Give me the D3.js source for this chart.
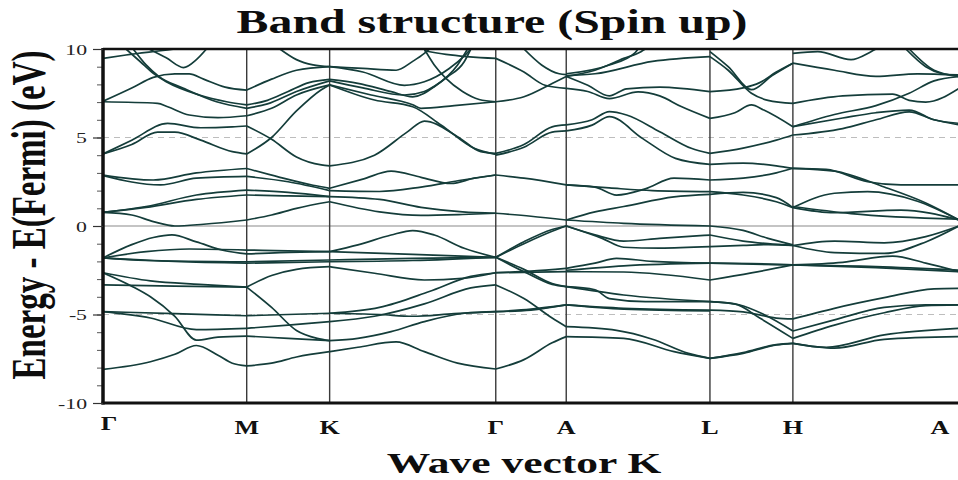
<!DOCTYPE html>
<html>
<head>
<meta charset="utf-8">
<script src="https://cdn.jsdelivr.net/npm/d3@7"></script>
<style>
  html, body { margin: 0; padding: 0; background: #fff; }
  svg { display: block; }
  text { font-family: "Liberation Serif", "Times New Roman", serif; }
</style>
</head>
<body>
<svg id="chart" width="958" height="480"></svg>
<script>
// High-symmetry path of the hexagonal Brillouin zone
const kLabels = ["Γ", "M", "K", "Γ", "A", "L", "H", "A"];
// Segment lengths in units of 2π/a
const segLengths = [0.577, 0.333, 0.667, 0.283, 0.577, 0.333, 0.667];
const energyMajor = [-10, -5, 0, 5, 10];
const energyMinor = d3.range(-10, 11, 1);

// Bands per path segment: each curve is a list of [t, E] with t in [0,1] along the segment, E in eV
const bandsGM = [
  [[0,-8.1],[0.33,-7.67],[0.5,-7.25],[0.65,-6.75],[0.8,-7.3],[0.9,-7.75],[1,-7.9]],
  [[0,-2.64],[0.2,-3.4],[0.33,-4.0],[0.5,-5.1],[0.65,-6.45],[0.8,-6.28],[1,-6.22]],
  [[0,-4.84],[0.33,-5.2],[0.65,-5.85],[1,-5.78]],
  [[0,-4.84],[0.5,-4.95],[1,-5.07]],
  [[0,-3.33],[0.5,-3.4],[1,-3.45]],
  [[0,-2.64],[0.33,-3.1],[0.67,-3.3],[1,-3.45]],
  [[0,-1.8],[0.5,-2.0],[1,-2.1]],
  [[0,-1.8],[0.3,-1.95],[1,-2.02]],
  [[0,-1.8],[0.3,-1.45],[0.6,-1.3],[1,-1.36]],
  [[0,-1.8],[0.2,-1.05],[0.35,-0.65],[0.48,-0.5],[0.65,-0.9],[0.85,-1.4],[1,-1.58]],
  [[0,0.77],[0.2,0.62],[0.35,0.25],[0.5,0.0],[0.7,0.1],[1,0.34]],
  [[0,0.77],[0.3,1.1],[0.65,1.75],[1,2.03]],
  [[0,0.77],[0.3,1.05],[0.65,1.5],[1,1.75]],
  [[0,2.85],[0.4,2.32],[0.65,2.7],[1,2.8]],
  [[0,2.88],[0.35,2.6],[0.65,3.0],[1,3.25]],
  [[0,4.07],[0.2,4.6],[0.38,5.3],[0.5,5.3],[0.68,4.85],[0.9,4.2],[1,4.07]],
  [[0,4.07],[0.2,4.85],[0.45,5.8],[0.68,5.55],[0.9,5.6],[1,5.65]],
  [[0,7.02],[0.38,6.93],[0.45,6.74],[0.6,6.27],[0.8,6.12],[1,6.23]],
  [[0,7.05],[0.2,7.8],[0.35,8.4],[0.5,8.6],[0.6,8.6],[0.7,8.3],[0.85,7.85],[1,7.68]],
  [[0.16,10],[0.26,9.28],[0.35,8.62],[0.44,8.15],[0.67,7.4],[0.86,7.02],[1,6.84]],
  [[0.21,10],[0.3,9.1],[0.39,8.44],[0.56,7.78],[0.79,7.02],[1,6.65]],
  [[0.32,10],[0.44,9.5],[0.56,8.95],[0.65,9.4],[0.72,10]],
  [[0,9.47],[0.16,9.66],[0.4,9.9],[0.5,10]]
];

const bandsMK = [
  [[0,7.68],[0.3,8.3],[0.6,8.8],[1,9.0]],
  [[0.4,10],[0.6,9.4],[0.8,9.1],[1,9.0]],
  [[0,6.84],[0.25,7.1],[0.5,7.6],[0.75,8.1],[1,8.28]],
  [[0,6.65],[0.25,6.9],[0.6,7.6],[1,8.2]],
  [[0,6.23],[0.3,6.65],[0.6,7.4],[1,7.97]],
  [[0,4.07],[0.3,5.0],[0.6,6.5],[0.9,7.7],[1,7.97]],
  [[0,5.65],[0.3,4.9],[0.6,3.9],[0.9,3.45],[1,3.4]],
  [[0,3.25],[0.4,2.75],[0.8,2.3],[1,2.13]],
  [[0,2.8],[0.5,2.5],[1,2.0]],
  [[0,2.03],[0.5,1.9],[1,1.66]],
  [[0,1.75],[0.5,1.7],[1,1.66]],
  [[0,0.34],[0.3,0.62],[0.6,1.0],[1,1.37]],
  [[0,-1.36],[0.5,-1.4],[1,-1.45]],
  [[0,-1.58],[0.4,-1.5],[1,-1.45]],
  [[0,-2.02],[1,-1.92]],
  [[0,-2.1],[1,-2.02]],
  [[0,-3.45],[0.3,-2.8],[0.6,-2.45],[1,-2.3]],
  [[0,-3.45],[0.3,-4.6],[0.6,-5.9],[0.85,-6.35],[1,-6.48]],
  [[0,-5.07],[1,-4.93]],
  [[0,-5.78],[0.5,-5.6],[1,-5.4]],
  [[0,-6.22],[0.5,-6.35],[1,-6.48]],
  [[0,-7.9],[0.3,-7.75],[0.6,-7.4],[1,-7.1]]
];

const bandsKG = [
  [[0,-1.45],[0.17,-1.07],[0.37,-0.51],[0.5,-0.26],[0.63,-0.51],[0.81,-1.26],[1,-1.77]],
  [[0,-1.45],[0.5,-1.6],[1,-1.77]],
  [[0,-1.92],[0.5,-1.83],[1,-1.77]],
  [[0,-2.02],[0.5,-1.95],[1,-1.77]],
  [[0,-2.3],[0.27,-2.67],[0.57,-3.05],[0.8,-2.96],[1,-2.64]],
  [[0,-4.93],[0.3,-4.6],[0.6,-3.7],[0.85,-2.85],[1,-2.64]],
  [[0,-5.4],[0.27,-5.1],[0.57,-4.4],[0.85,-3.5],[1,-3.33]],
  [[0,-4.93],[0.3,-5.0],[0.5,-5.1],[0.75,-4.95],[1,-4.84]],
  [[0,-6.48],[0.17,-6.35],[0.37,-5.97],[0.57,-5.4],[0.81,-4.93],[1,-4.84]],
  [[0,-7.1],[0.17,-6.85],[0.4,-6.55],[0.57,-7.1],[0.77,-7.75],[1,-8.08]],
  [[0,1.37],[0.3,0.8],[0.55,0.6],[0.8,0.65],[1,0.72]],
  [[0,1.66],[0.3,1.5],[0.55,1.05],[0.8,0.8],[1,0.72]],
  [[0,2.0],[0.3,1.95],[0.55,2.2],[0.8,2.6],[1,2.88]],
  [[0,2.13],[0.2,2.65],[0.37,3.1],[0.55,2.75],[0.73,2.4],[0.87,2.7],[1,2.88]],
  [[0,3.4],[0.27,4.0],[0.47,5.33],[0.57,5.93],[0.77,5.05],[0.91,4.2],[1,4.1]],
  [[0,7.97],[0.27,7.12],[0.5,6.74],[0.67,5.71],[0.87,4.39],[1,4.05]],
  [[0,7.97],[0.25,7.4],[0.5,6.85],[0.55,6.65],[0.75,6.8],[1,7.02]],
  [[0,8.28],[0.17,8.06],[0.37,7.59],[0.5,7.3],[0.63,7.87],[0.77,9.1],[0.83,10]],
  [[0,8.2],[0.2,7.8],[0.45,7.4],[0.57,7.6],[0.71,8.43],[0.81,9.28],[0.85,10]],
  [[0,9.0],[0.2,8.7],[0.45,7.95],[0.57,8.15],[0.72,8.9],[0.82,9.7],[0.85,10]],
  [[0,9.0],[0.2,8.9],[0.4,8.8],[0.5,9.3],[0.57,9.75],[0.6,10]],
  [[0.57,10],[0.63,9.1],[0.7,8.34],[0.8,7.6],[0.9,7.15],[1,7.02]],
  [[0.57,9.9],[0.7,9.7],[1,9.47]]
];

const bandsGA = [
  [[0,9.47],[0.4,8.7],[0.7,7.95],[1,7.78]],
  [[0,7.02],[0.4,7.3],[0.8,8.05],[1,8.45]],
  [[0.4,10],[0.65,9.1],[0.9,8.6],[1,8.55]],
  [[0,4.1],[0.4,4.6],[0.8,5.6],[1,5.71]],
  [[0,4.0],[0.4,4.45],[0.8,5.3],[1,5.37]],
  [[0,2.88],[0.4,2.7],[1,2.32]],
  [[0,0.72],[0.5,0.55],[1,0.34]],
  [[0,-1.77],[0.4,-0.89],[0.8,-0.2],[1,0.0]],
  [[0,-1.77],[0.4,-1.0],[0.8,-0.3],[1,0.0]],
  [[0,-1.77],[0.4,-2.58],[0.8,-3.3],[1,-3.43]],
  [[0,-1.77],[0.4,-2.45],[0.8,-3.25],[1,-3.43]],
  [[0,-2.64],[0.5,-2.55],[1,-2.39]],
  [[0,-2.64],[1,-2.58]],
  [[0,-3.33],[0.4,-4.1],[0.8,-5.2],[1,-5.69]],
  [[0,-4.84],[0.5,-4.75],[1,-4.46]],
  [[0,-4.84],[0.5,-4.7],[1,-4.46]],
  [[0,-8.08],[0.4,-7.55],[0.8,-6.6],[1,-6.25]]
];

const bandsAL = [
  [[0,8.45],[0.2,8.8],[0.4,9.47],[0.52,9.85],[0.55,10]],
  [[0,8.6],[0.3,9.1],[0.48,9.8],[0.5,10]],
  [[0,8.5],[0.2,8.6],[0.6,9.3],[1,9.57]],
  [[0,8.45],[0.15,7.95],[0.3,7.35],[0.42,7.75],[0.65,7.85],[1,7.59]],
  [[0,7.78],[0.15,7.6],[0.3,7.2],[0.5,7.58],[0.65,7.35],[0.8,6.75],[1,6.08]],
  [[0,5.71],[0.18,6.0],[0.3,6.46],[0.42,6.27],[0.65,5.33],[0.87,4.39],[1,4.1]],
  [[0,5.37],[0.18,5.7],[0.3,6.18],[0.53,4.95],[0.76,3.82],[1,3.48]],
  [[0,2.32],[0.2,2.2],[0.35,1.75],[0.55,2.1],[0.75,2.7],[1,2.6]],
  [[0,2.32],[0.3,2.15],[0.6,2.0],[1,1.94]],
  [[0,0.34],[0.2,0.8],[0.4,1.1],[0.75,1.65],[1,1.79]],
  [[0,0.34],[0.4,0.15],[1,0.0]],
  [[0,0.0],[0.2,-0.5],[0.4,-0.85],[0.65,-0.7],[1,-0.51]],
  [[0,0.0],[0.25,-0.7],[0.4,-1.2],[0.65,-1.25],[1,-1.17]],
  [[0,-2.39],[0.2,-2.1],[0.35,-1.83],[0.6,-2.0],[1,-2.1]],
  [[0,-2.58],[0.4,-2.6],[1,-3.05]],
  [[0,-2.5],[0.4,-2.25],[1,-2.1]],
  [[0,-3.43],[0.2,-3.6],[0.3,-4.1],[0.55,-4.27],[1,-4.27]],
  [[0,-3.43],[0.4,-3.9],[1,-4.27]],
  [[0,-4.46],[0.4,-4.65],[1,-4.75]],
  [[0,-4.46],[0.4,-4.7],[1,-4.8]],
  [[0,-5.69],[0.35,-5.9],[0.6,-6.4],[0.85,-7.2],[1,-7.48]],
  [[0,-6.25],[0.4,-6.35],[0.75,-7.1],[1,-7.48]]
];

const bandsLH = [
  [[0,9.85],[0.22,9.0],[0.5,7.7],[0.75,8.5],[1,9.2]],
  [[0,9.57],[0.22,8.8],[0.5,7.5],[0.7,7.1],[1,6.93]],
  [[0,7.59],[0.4,7.8],[0.6,8.1],[0.8,8.7],[1,9.2]],
  [[0,6.08],[0.3,6.4],[0.5,6.84],[0.65,6.55],[1,5.61]],
  [[0,4.1],[0.4,4.4],[0.8,4.85],[1,5.14]],
  [[0,3.48],[0.4,3.55],[0.8,3.4],[1,3.26]],
  [[0,2.6],[0.4,2.7],[0.8,3.0],[1,3.26]],
  [[0,1.94],[0.4,1.75],[0.8,1.37],[1,1.04]],
  [[0,1.79],[0.4,1.9],[0.8,1.6],[1,1.04]],
  [[0,0.0],[0.4,-0.25],[0.7,-0.7],[1,-1.07]],
  [[0,-0.51],[0.4,-0.85],[0.7,-1.0],[1,-1.1]],
  [[0,-1.17],[0.4,-1.1],[0.7,-1.05],[1,-1.1]],
  [[0,-2.1],[1,-2.2]],
  [[0,-2.1],[0.5,-2.12],[1,-2.2]],
  [[0,-3.05],[0.5,-2.65],[1,-2.2]],
  [[0,-4.27],[0.35,-4.45],[0.65,-5.0],[1,-5.93]],
  [[0,-4.27],[0.3,-4.4],[0.6,-5.2],[1,-6.35]],
  [[0,-4.75],[0.4,-4.85],[0.8,-5.2],[1,-5.25]],
  [[0,-7.48],[0.4,-7.2],[0.8,-6.72],[1,-6.63]],
  [[0,-7.48],[0.4,-7.15],[0.8,-6.7],[1,-6.63]]
];

const bandsHA = [
  [[0,9.75],[0.15,9.85],[0.35,9.4],[0.47,9.85],[0.5,10]],
  [[0,9.2],[0.25,8.8],[0.5,8.45],[0.75,8.6],[1,8.53]],
  [[0.68,10],[0.8,9.0],[0.9,8.6],[1,8.5]],
  [[0.7,10],[0.85,8.8],[1,8.45]],
  [[0,6.93],[0.3,7.35],[0.6,7.45],[0.7,7.1],[0.8,7.0],[1,7.78]],
  [[0,5.61],[0.25,6.3],[0.5,6.8],[0.7,7.5],[0.85,8.2],[1,8.45]],
  [[0,5.61],[0.3,6.1],[0.5,6.4],[0.7,6.55],[0.85,6.0],[1,5.8]],
  [[0,5.14],[0.3,5.5],[0.5,6.0],[0.7,6.45],[0.85,6.0],[1,5.71]],
  [[0,3.26],[0.25,3.1],[0.55,2.2],[0.8,1.3],[1,0.34]],
  [[0,3.26],[0.2,3.2],[0.45,2.5],[0.65,2.32],[1,2.32]],
  [[0,1.04],[0.25,1.85],[0.45,1.94],[0.75,1.4],[1,0.34]],
  [[0,1.04],[0.25,0.75],[0.65,0.9],[1,0.34]],
  [[0,1.1],[0.35,0.7],[1,0.38]],
  [[0,-1.1],[0.25,-0.85],[0.55,-0.95],[0.8,-0.6],[1,0.0]],
  [[0,-1.1],[0.25,-1.5],[0.55,-1.55],[0.8,-0.9],[1,0.0]],
  [[0,-2.2],[0.3,-2.05],[0.6,-1.7],[0.8,-2.1],[1,-2.58]],
  [[0,-2.2],[0.5,-2.35],[1,-2.58]],
  [[0,-2.2],[0.5,-2.3],[1,-2.5]],
  [[0,-5.25],[0.25,-4.65],[0.55,-4.05],[0.85,-3.55],[1,-3.52]],
  [[0,-5.93],[0.25,-5.3],[0.55,-4.6],[0.8,-4.45],[1,-4.46]],
  [[0,-6.35],[0.25,-5.6],[0.55,-4.9],[0.8,-4.5],[1,-4.46]],
  [[0,-6.63],[0.2,-6.85],[0.55,-6.15],[1,-5.78]],
  [[0,-6.63],[0.25,-6.9],[0.55,-6.4],[1,-6.25]]
];

const segmentBands = [bandsGM, bandsMK, bandsKG, bandsGA, bandsAL, bandsLH, bandsHA];

// ---- layout ----
const svg = d3.select("#chart");
const plot = { left: 103, right: 959, top: 49, bottom: 403 };
const stretch = 1.45;            // horizontal stretch applied to all lettering
const serif = '"Liberation Serif", "Times New Roman", serif';

const kNodes = [0];
segLengths.forEach(l => kNodes.push(kNodes[kNodes.length - 1] + l));
const kTotal = kNodes[kNodes.length - 1];

const x = d3.scaleLinear().domain([0, kTotal]).range([plot.left, plot.right]);
const y = d3.scaleLinear().domain([-10, 10]).range([plot.bottom, plot.top]);

svg.append("defs").append("clipPath").attr("id", "plotClip")
  .append("rect")
  .attr("x", plot.left).attr("y", plot.top)
  .attr("width", plot.right - plot.left).attr("height", plot.bottom - plot.top);

// reference lines: Fermi level and ±5 eV
svg.append("line")
  .attr("x1", plot.left).attr("x2", plot.right)
  .attr("y1", y(0)).attr("y2", y(0))
  .attr("stroke", "#c4c4c4").attr("stroke-width", 2);
svg.selectAll("line.dash").data([5, -5]).join("line")
  .attr("class", "dash")
  .attr("x1", plot.left).attr("x2", plot.right)
  .attr("y1", d => y(d)).attr("y2", d => y(d))
  .attr("stroke", "#bdbdbd").attr("stroke-width", 1)
  .attr("stroke-dasharray", "6,5");

// high-symmetry verticals
svg.selectAll("line.sym").data(kNodes.slice(1, -1)).join("line")
  .attr("class", "sym")
  .attr("x1", d => x(d)).attr("x2", d => x(d))
  .attr("y1", plot.top).attr("y2", plot.bottom)
  .attr("stroke", "#3a3a3a").attr("stroke-width", 1.4);

// bands
const line = d3.line()
  .x(d => d[0]).y(d => d[1])
  .curve(d3.curveMonotoneX);

const bandLayer = svg.append("g").attr("clip-path", "url(#plotClip)");
segmentBands.forEach((curves, s) => {
  bandLayer.append("g").selectAll("path").data(curves).join("path")
    .attr("d", c => line(c.map(([t, e]) => [x(kNodes[s] + t * segLengths[s]), y(e)])))
    .attr("fill", "none")
    .attr("stroke", "#143d3a")
    .attr("stroke-width", 1.7)
    .attr("stroke-linejoin", "round");
});

// frame
svg.append("line").attr("x1", plot.left).attr("x2", 958)
  .attr("y1", plot.top).attr("y2", plot.top)
  .attr("stroke", "#111").attr("stroke-width", 2.5);
svg.append("line").attr("x1", plot.left - 1.5).attr("x2", 958)
  .attr("y1", plot.bottom).attr("y2", plot.bottom)
  .attr("stroke", "#111").attr("stroke-width", 3);

// y axis
const yMinor = svg.append("g").attr("transform", `translate(${plot.left},0)`)
  .call(d3.axisLeft(y).tickValues(energyMinor).tickSize(6).tickFormat(""));
yMinor.select(".domain").remove();
yMinor.selectAll(".tick line").attr("stroke", "#555").attr("stroke-width", 1);

const yMajor = svg.append("g").attr("transform", `translate(${plot.left},0)`)
  .call(d3.axisLeft(y).tickValues(energyMajor).tickSize(10).tickPadding(0).tickFormat(d => String(d)));
yMajor.select(".domain")
  .attr("d", `M0,${plot.top - 1}V${plot.bottom + 1.5}`)
  .attr("stroke", "#111").attr("stroke-width", 3.5);
yMajor.selectAll(".tick line").attr("stroke", "#333").attr("stroke-width", 1.2);
yMajor.selectAll(".tick text")
  .attr("x", null).attr("dy", "0.34em")
  .attr("transform", `translate(-16,0) scale(${stretch},1)`)
  .attr("text-anchor", "end")
  .style("font-family", serif).style("font-size", "15px").attr("fill", "#222");

// k-point labels, kept inside the picture at both ends
svg.append("g").selectAll("text").data(kNodes).join("text")
  .attr("transform", (d, i) => `translate(${Math.max(109, Math.min(940, x(d)))},${i === 0 ? 430 : 434}) scale(${stretch},1)`)
  .attr("text-anchor", "middle")
  .style("font-family", serif).style("font-size", "18px").style("font-weight", "bold")
  .attr("fill", "#111")
  .text((d, i) => kLabels[i]);

// titles
svg.append("text")
  .attr("transform", `translate(492,33) scale(${stretch},1)`)
  .attr("text-anchor", "middle")
  .style("font-family", serif).style("font-size", "33px").style("font-weight", "bold")
  .attr("fill", "#0d0d0d")
  .text("Band structure (Spin up)");

svg.append("text")
  .attr("transform", `translate(524,473) scale(${stretch},1)`)
  .attr("text-anchor", "middle")
  .style("font-family", serif).style("font-size", "30px").style("font-weight", "bold")
  .attr("fill", "#0d0d0d")
  .text("Wave vector K");

svg.append("text")
  .attr("transform", `translate(45,215) scale(${stretch},1) rotate(-90)`)
  .attr("text-anchor", "middle")
  .style("font-family", serif).style("font-size", "33px").style("font-weight", "bold")
  .attr("fill", "#0d0d0d")
  .text("Energy - E(Fermi) (eV)");
</script>
</body>
</html>
